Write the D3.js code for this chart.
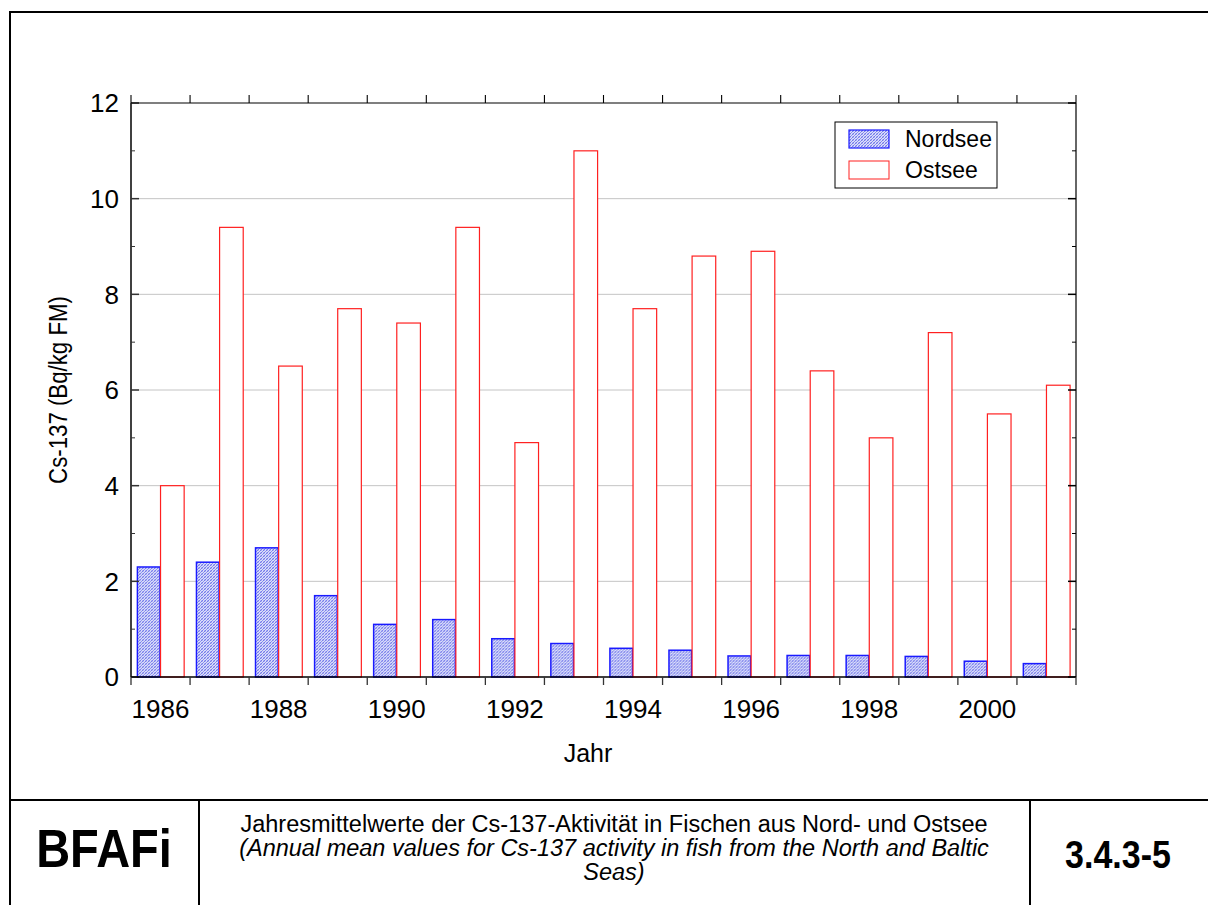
<!DOCTYPE html>
<html>
<head>
<meta charset="utf-8">
<script src="https://cdn.jsdelivr.net/npm/d3@7"></script>
<style>
  body { margin: 0; background: #fff; }
  text { font-family: "Liberation Sans", Arial, sans-serif; }
</style>
</head>
<body>
<div id="chart"></div>
<script>
// chart data
var years = [1986, 1987, 1988, 1989, 1990, 1991, 1992, 1993, 1994, 1995, 1996, 1997, 1998, 1999, 2000, 2001];
var nordsee = [2.3, 2.4, 2.7, 1.7, 1.1, 1.2, 0.8, 0.7, 0.6, 0.56, 0.44, 0.45, 0.45, 0.43, 0.33, 0.28];
var ostsee = [4.0, 9.4, 6.5, 7.7, 7.4, 9.4, 4.9, 11.0, 7.7, 8.8, 8.9, 6.4, 5.0, 7.2, 5.5, 6.1];
var seriesNames = ["Nordsee", "Ostsee"];
var yTicks = [0, 2, 4, 6, 8, 10, 12];
var xTickLabels = [1986, 1988, 1990, 1992, 1994, 1996, 1998, 2000];

var svgWidth = 1208;
var svgHeight = 905;
var margin = { top: 103, right: 132, bottom: 228, left: 131 };
var chartWidth = svgWidth - margin.left - margin.right;
var chartHeight = svgHeight - margin.top - margin.bottom;

var svg = d3.select("#chart")
  .append("svg")
  .attr("width", svgWidth)
  .attr("height", svgHeight);

// hatch pattern for Nordsee
var defs = svg.append("defs");
var pat = defs.append("pattern")
  .attr("id", "hatch")
  .attr("patternUnits", "userSpaceOnUse")
  .attr("width", 3)
  .attr("height", 3);
pat.append("rect").attr("width", 3).attr("height", 3).attr("fill", "#dcdffa");
pat.append("path").attr("d", "M0,3 L3,0").attr("stroke", "#7076ea").attr("stroke-width", 1);
pat.append("path").attr("d", "M0,0 L3,3").attr("stroke", "#9a9ff0").attr("stroke-width", 0.6);

// outer frame + footer
svg.append("rect")
  .attr("x", 10).attr("y", 12)
  .attr("width", 1220).attr("height", 920)
  .attr("fill", "none").attr("stroke", "#000").attr("stroke-width", 2);
svg.append("line").attr("x1", 10).attr("x2", 1210).attr("y1", 800).attr("y2", 800)
  .attr("stroke", "#000").attr("stroke-width", 2);
svg.append("line").attr("x1", 199).attr("x2", 199).attr("y1", 800).attr("y2", 905)
  .attr("stroke", "#000").attr("stroke-width", 2);
svg.append("line").attr("x1", 1030).attr("x2", 1030).attr("y1", 800).attr("y2", 905)
  .attr("stroke", "#000").attr("stroke-width", 2);

svg.append("text").attr("transform", "translate(104, 867) scale(1, 1.15)")
  .attr("text-anchor", "middle").attr("font-size", 47).attr("font-weight", "bold")
  .text("BFAFi");
svg.append("text").attr("transform", "translate(1118, 868) scale(1, 1.12)")
  .attr("text-anchor", "middle").attr("font-size", 34).attr("font-weight", "bold")
  .text("3.4.3-5");
var foot = svg.append("text").attr("text-anchor", "middle").attr("font-size", 23.5);
foot.append("tspan").attr("x", 614).attr("y", 832)
  .text("Jahresmittelwerte der Cs-137-Aktivität in Fischen aus Nord- und Ostsee");
foot.append("tspan").attr("x", 614).attr("y", 856).attr("font-style", "italic")
  .text("(Annual mean values for Cs-137 activity in fish from the North and Baltic");
foot.append("tspan").attr("x", 614).attr("y", 880).attr("font-style", "italic")
  .text("Seas)");

var chartGroup = svg.append("g")
  .attr("transform", `translate(${margin.left}, ${margin.top})`);

var xScale = d3.scaleBand()
  .domain(years)
  .range([0, chartWidth])
  .paddingInner(0.2)
  .paddingOuter(0.1);
// band edges (category boundaries)
var xBand = d3.scaleBand().domain(years).range([0, chartWidth]);
var xSub = d3.scaleBand().domain(seriesNames).range([0, xScale.bandwidth()]);

var yScale = d3.scaleLinear().domain([0, 12]).range([chartHeight, 0]);

// gridlines
chartGroup.append("g")
  .selectAll("line")
  .data(yTicks.filter(d => d > 0 && d < 12))
  .enter().append("line")
  .attr("x1", 0).attr("x2", chartWidth)
  .attr("y1", d => yScale(d)).attr("y2", d => yScale(d))
  .attr("stroke", "#c4c4c4").attr("stroke-width", 1);

// bars
var groups = chartGroup.selectAll("g.year")
  .data(years)
  .enter().append("g")
  .attr("class", "year")
  .attr("transform", d => `translate(${xScale(d)},0)`);

groups.append("rect")
  .attr("x", xSub("Nordsee") + 0.5)
  .attr("y", (d, i) => yScale(nordsee[i]))
  .attr("width", xSub.bandwidth() - 1)
  .attr("height", (d, i) => chartHeight - yScale(nordsee[i]))
  .attr("fill", "url(#hatch)")
  .attr("stroke", "#1a1aff").attr("stroke-width", 1.5);

groups.append("rect")
  .attr("x", xSub("Ostsee"))
  .attr("y", (d, i) => yScale(ostsee[i]))
  .attr("width", xSub.bandwidth())
  .attr("height", (d, i) => chartHeight - yScale(ostsee[i]))
  .attr("fill", "#fff")
  .attr("stroke", "#ff2020").attr("stroke-width", 1.2);

// axes
var axisColor = "#000";
var left = chartGroup.append("g");
left.append("line").attr("x1", 0).attr("x2", 0).attr("y1", 0).attr("y2", chartHeight)
  .attr("stroke", axisColor).attr("stroke-width", 1.5);
var right = chartGroup.append("g");
right.append("line").attr("x1", chartWidth).attr("x2", chartWidth).attr("y1", 0).attr("y2", chartHeight)
  .attr("stroke", "#333").attr("stroke-width", 1.5);
chartGroup.append("line").attr("x1", 0).attr("x2", chartWidth).attr("y1", 0).attr("y2", 0)
  .attr("stroke", axisColor).attr("stroke-width", 1.2);
chartGroup.append("line").attr("x1", 0).attr("x2", chartWidth).attr("y1", chartHeight).attr("y2", chartHeight)
  .attr("stroke", axisColor).attr("stroke-width", 1.5);

var minorY = d3.range(1, 12, 2);
// major / minor ticks on left and right, pointing inward
yTicks.forEach(function(v) {
  left.append("line").attr("x1", 0).attr("x2", 8).attr("y1", yScale(v)).attr("y2", yScale(v))
    .attr("stroke", "#333").attr("stroke-width", 1.5);
  right.append("line").attr("x1", chartWidth - 8).attr("x2", chartWidth).attr("y1", yScale(v)).attr("y2", yScale(v))
    .attr("stroke", "#000").attr("stroke-width", 1.5);
});
minorY.forEach(function(v) {
  left.append("line").attr("x1", 0).attr("x2", 4).attr("y1", yScale(v)).attr("y2", yScale(v))
    .attr("stroke", "#333").attr("stroke-width", 1);
  right.append("line").attr("x1", chartWidth - 4).attr("x2", chartWidth).attr("y1", yScale(v)).attr("y2", yScale(v))
    .attr("stroke", "#000").attr("stroke-width", 1);
});

left.selectAll("text.ytick")
  .data(yTicks)
  .enter().append("text")
  .attr("class", "ytick")
  .attr("x", -12)
  .attr("y", d => yScale(d))
  .attr("dy", "0.36em")
  .attr("text-anchor", "end")
  .attr("font-size", 26)
  .text(d => d);

// x ticks at band edges, outward on top and bottom
var edges = years.map(d => xBand(d)).concat([chartWidth]);
edges.forEach(function(x) {
  chartGroup.append("line").attr("x1", x).attr("x2", x).attr("y1", chartHeight).attr("y2", chartHeight + 8)
    .attr("stroke", "#333").attr("stroke-width", 1.3);
  chartGroup.append("line").attr("x1", x).attr("x2", x).attr("y1", 0).attr("y2", -8)
    .attr("stroke", "#000").attr("stroke-width", 1.1);
});

chartGroup.selectAll("text.xtick")
  .data(xTickLabels)
  .enter().append("text")
  .attr("class", "xtick")
  .attr("x", d => xBand(d) + xBand.bandwidth() / 2)
  .attr("y", chartHeight + 41)
  .attr("text-anchor", "middle")
  .attr("font-size", 26)
  .text(d => d);

// axis titles
chartGroup.append("text")
  .attr("x", 588 - margin.left)
  .attr("y", chartHeight + 85)
  .attr("text-anchor", "middle")
  .attr("font-size", 25)
  .text("Jahr");

chartGroup.append("text")
  .attr("transform", `translate(-64, ${390 - margin.top}) rotate(-90) scale(0.89, 1)`)
  .attr("text-anchor", "middle")
  .attr("font-size", 25)
  .text("Cs-137 (Bq/kg FM)");

// legend
var legend = svg.append("g").attr("transform", "translate(835, 122)");
legend.append("rect").attr("width", 162).attr("height", 66)
  .attr("fill", "#fff").attr("stroke", "#000").attr("stroke-width", 1);
legend.append("rect").attr("x", 14).attr("y", 8).attr("width", 40).attr("height", 18)
  .attr("fill", "url(#hatch)").attr("stroke", "#1a1aff").attr("stroke-width", 1.2);
legend.append("rect").attr("x", 14).attr("y", 39).attr("width", 40).attr("height", 18)
  .attr("fill", "#fff").attr("stroke", "#ff2020").attr("stroke-width", 1);
legend.selectAll("text.leg")
  .data(seriesNames)
  .enter().append("text")
  .attr("class", "leg")
  .attr("x", 70)
  .attr("y", (d, i) => 17 + i * 31)
  .attr("dy", "0.36em")
  .attr("font-size", 23)
  .text(d => d);
</script>
</body>
</html>
